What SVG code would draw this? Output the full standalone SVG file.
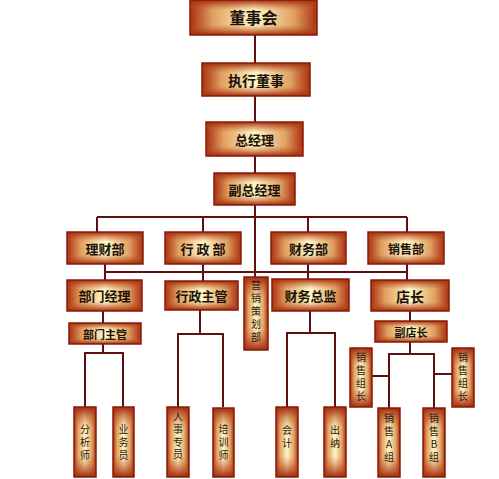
<svg xmlns="http://www.w3.org/2000/svg" width="499" height="479" viewBox="0 0 499 479">
<style>
.c{fill:none;stroke:#5e1010;stroke-width:2}
.b{fill:url(#gh);stroke:none}
.o{fill:url(#gv);stroke:#8a1a08;stroke-width:1.5}
.t{font-family:"Noto Sans CJK SC","Noto Sans",sans-serif;font-weight:700;fill:#1a1208;text-anchor:middle;dominant-baseline:central}
.v{font-family:"Noto Sans CJK SC","Noto Sans",sans-serif;font-weight:400;font-size:10px;fill:#2a1a08;text-anchor:middle;writing-mode:vertical-rl;text-orientation:upright;letter-spacing:3px}
</style>
<defs>
<linearGradient id="gh" x1="0" y1="0" x2="1" y2="0">
<stop offset="0" stop-color="#a82e10"/>
<stop offset="0.18" stop-color="#e0a060"/>
<stop offset="0.5" stop-color="#fff7c8"/>
<stop offset="0.82" stop-color="#e0a060"/>
<stop offset="1" stop-color="#a82e10"/>
</linearGradient>
<linearGradient id="gv" x1="0" y1="0" x2="0" y2="1">
<stop offset="0" stop-color="#a02a0e" stop-opacity="1"/>
<stop offset="0.3" stop-color="#c8602a" stop-opacity="0"/>
<stop offset="0.7" stop-color="#c8602a" stop-opacity="0"/>
<stop offset="1" stop-color="#a02a0e" stop-opacity="1"/>
</linearGradient>
</defs>
<rect width="499" height="479" fill="#ffffff"/>
<g id="connectors">
<path class="c" d="M255 35V63M255 96V122M255 156V173M255 205V277"/>
<path class="c" d="M97 217H407M97 217V232M203 217V232M308 217V232M407 217V232"/>
<path class="c" d="M105 272H408M105 264V280M203 264V281M308 264V279M407 264V280"/>
<path class="c" d="M103 311V323M410 311V321"/>
<path class="c" d="M103 344V353M85 407V353H123V407"/>
<path class="c" d="M200 310V334M178 407V334H223V407"/>
<path class="c" d="M310 311V333M287 407V333H335V407"/>
<path class="c" d="M410 342V354M389 408V354H434V408M372 376H389M434 374H452"/>
</g>
<g id="n1"><rect class="b" x="190" y="0" width="127" height="35"/><rect class="o" x="190" y="0" width="127" height="35"/><text class="t" x="253.5" y="17" font-size="16">董事会</text></g>
<g id="n2"><rect class="b" x="202" y="63" width="108" height="33"/><rect class="o" x="202" y="63" width="108" height="33"/><text class="t" x="256" y="79.5" font-size="14">执行董事</text></g>
<g id="n3"><rect class="b" x="206" y="122" width="97" height="34"/><rect class="o" x="206" y="122" width="97" height="34"/><text class="t" x="254.5" y="139" font-size="13">总经理</text></g>
<g id="n4"><rect class="b" x="214" y="173" width="81" height="32"/><rect class="o" x="214" y="173" width="81" height="32"/><text class="t" x="254.5" y="189" font-size="13">副总经理</text></g>
<g id="n5"><rect class="b" x="67" y="232" width="76" height="32"/><rect class="o" x="67" y="232" width="76" height="32"/><text class="t" x="105" y="248" font-size="13">理财部</text></g>
<g id="n6"><rect class="b" x="165" y="232" width="76" height="32"/><rect class="o" x="165" y="232" width="76" height="32"/><text class="t" x="203" y="248" font-size="13">行 政 部</text></g>
<g id="n7"><rect class="b" x="271" y="232" width="75" height="32"/><rect class="o" x="271" y="232" width="75" height="32"/><text class="t" x="308.5" y="248" font-size="13">财务部</text></g>
<g id="n8"><rect class="b" x="368" y="232" width="76" height="32"/><rect class="o" x="368" y="232" width="76" height="32"/><text class="t" x="406" y="248" font-size="12">销售部</text></g>
<g id="n9"><rect class="b" x="67" y="280" width="75" height="31"/><rect class="o" x="67" y="280" width="75" height="31"/><text class="t" x="104.5" y="295.5" font-size="13">部门经理</text></g>
<g id="n10"><rect class="b" x="165" y="281" width="73" height="29"/><rect class="o" x="165" y="281" width="73" height="29"/><text class="t" x="201.5" y="295.5" font-size="13">行政主管</text></g>
<g id="n11"><rect class="b" x="244" y="277" width="24" height="73"/><rect class="o" x="244" y="277" width="24" height="73"/><text class="v" x="256" y="313">营销策划部</text></g>
<g id="n12"><rect class="b" x="272" y="279" width="77" height="32"/><rect class="o" x="272" y="279" width="77" height="32"/><text class="t" x="310.5" y="295" font-size="13">财务总监</text></g>
<g id="n13"><rect class="b" x="371" y="280" width="78" height="31"/><rect class="o" x="371" y="280" width="78" height="31"/><text class="t" x="410" y="295.5" font-size="14">店长</text></g>
<g id="n14"><rect class="b" x="69" y="323" width="72" height="21"/><rect class="o" x="69" y="323" width="72" height="21"/><text class="t" x="105" y="333.5" font-size="11">部门主管</text></g>
<g id="n15"><rect class="b" x="375" y="321" width="72" height="21"/><rect class="o" x="375" y="321" width="72" height="21"/><text class="t" x="411" y="331.5" font-size="11">副店长</text></g>
<g id="n16"><rect class="b" x="74" y="407" width="22" height="70"/><rect class="o" x="74" y="407" width="22" height="70"/><text class="v" x="85" y="444">分析师</text></g>
<g id="n17"><rect class="b" x="113" y="407" width="21" height="70"/><rect class="o" x="113" y="407" width="21" height="70"/><text class="v" x="123.5" y="444">业务员</text></g>
<g id="n18"><rect class="b" x="167" y="407" width="22" height="70"/><rect class="o" x="167" y="407" width="22" height="70"/><text class="v" x="178" y="437" style="letter-spacing:2.5px">人事专员</text></g>
<g id="n19"><rect class="b" x="213" y="408" width="21" height="69"/><rect class="o" x="213" y="408" width="21" height="69"/><text class="v" x="223.5" y="444">培训师</text></g>
<g id="n20"><rect class="b" x="276" y="407" width="22" height="70"/><rect class="o" x="276" y="407" width="22" height="70"/><text class="v" x="287" y="438">会计</text></g>
<g id="n21"><rect class="b" x="324" y="407" width="22" height="70"/><rect class="o" x="324" y="407" width="22" height="70"/><text class="v" x="335" y="438">出纳</text></g>
<g id="n22"><rect class="b" x="350" y="348" width="22" height="59"/><rect class="o" x="350" y="348" width="22" height="59"/><text class="v" x="361" y="378">销售组长</text></g>
<g id="n23"><rect class="b" x="452" y="348" width="22" height="59"/><rect class="o" x="452" y="348" width="22" height="59"/><text class="v" x="463" y="378">销售组长</text></g>
<g id="n24"><rect class="b" x="378" y="408" width="22" height="69"/><rect class="o" x="378" y="408" width="22" height="69"/><text class="v" x="389" y="439">销售A组</text></g>
<g id="n25"><rect class="b" x="423" y="408" width="22" height="69"/><rect class="o" x="423" y="408" width="22" height="69"/><text class="v" x="434" y="439">销售B组</text></g>
</svg>
